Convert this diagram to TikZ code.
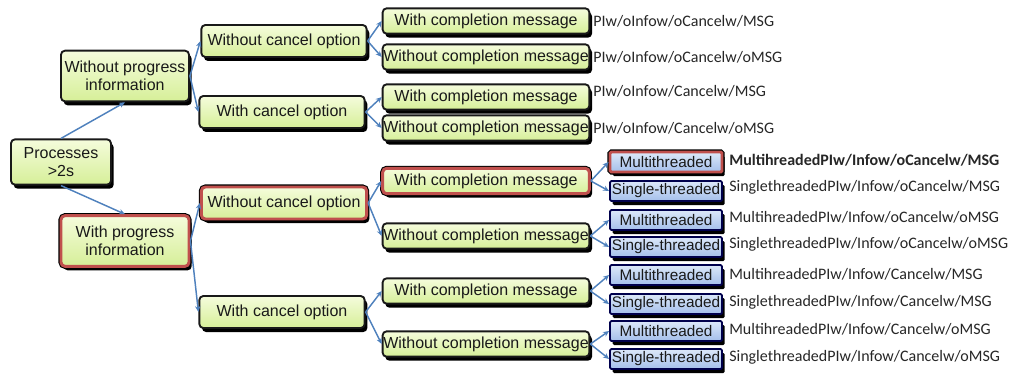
\documentclass[tikz,border=0pt]{standalone}
\usepackage{fontspec}
\setmainfont{Liberation Sans}
\newfontfamily\labfont{Carlito}
\usetikzlibrary{shadows, arrows.meta}

\definecolor{greentop}{HTML}{F5FCDC}
\definecolor{greenbot}{HTML}{D6EF98}
\definecolor{bluetop}{HTML}{DCE8F9}
\definecolor{bluebot}{HTML}{A4BFEA}
\definecolor{redline}{HTML}{C0504D}
\definecolor{arrowblue}{HTML}{4F81BD}

\begin{document}
\begin{tikzpicture}[x=0.75pt, y=-0.75pt]

\tikzset{box/.style = {rectangle, rounded corners=3pt, draw=black!90, line width=1.4pt,
  top color=greentop, bottom color=greenbot, text=black!90, align=center,
  inner xsep=0.5pt, inner ysep=1pt, font=\fontsize{12}{13.5}\selectfont,
  drop shadow={shadow xshift=2pt, shadow yshift=-3pt, fill=black, opacity=1}}}
\tikzset{hot/.style = {draw=redline, line width=2.2pt, preaction={draw=black, line width=3.8pt}}}
\tikzset{lone/.style = {box, minimum width=96pt, minimum height=38pt}}
\tikzset{ltwo/.style = {box, minimum width=124pt, minimum height=24pt}}
\tikzset{lthree/.style = {box, minimum width=155pt, minimum height=19pt}}
\tikzset{lfour/.style = {box, rounded corners=1pt, draw=black!70!blue, minimum width=84pt, minimum height=15pt,
  top color=bluetop, bottom color=bluebot, font=\fontsize{11.5}{12}\selectfont}}
\tikzset{lab/.style = {anchor=west, inner sep=0pt, text=black!85, font=\labfont\fontsize{12}{13}\selectfont}}
\tikzset{edge/.style = {-{Stealth[length=4.5pt, width=4pt]}, draw=arrowblue, line width=1.1pt}}

\useasboundingbox (0,0) rectangle (1012,374);

%boxes
\node[box, minimum width=75pt, minimum height=34pt] (proc) at (61,162) {Processes\\>2s};
\node[lone] (wop) at (125,76) {Without progress\\information};
\node[lone, hot] (wp) at (125,241) {With progress\\information};

\node[ltwo] (nc1) at (284,41) {Without cancel option};
\node[ltwo] (c1) at (282,112) {With cancel option};
\node[ltwo, hot] (nc2) at (284,203) {Without cancel option};
\node[ltwo] (c2) at (282,312) {With cancel option};

\node[lthree] (cm1) at (486,21) {With completion message};
\node[lthree] (nm1) at (486,57) {Without completion message};
\node[lthree] (cm2) at (486,97) {With completion message};
\node[lthree] (nm2) at (486,128) {Without completion message};
\node[lthree, hot] (cm3) at (486,181) {With completion message};
\node[lthree] (nm3) at (486,236) {Without completion message};
\node[lthree] (cm4) at (486,291) {With completion message};
\node[lthree] (nm4) at (486,344) {Without completion message};

\node[lfour, hot] (mt1) at (666,162) {Multithreaded};
\node[lfour] (st1) at (666,191) {Single-threaded};
\node[lfour] (mt2) at (666,220) {Multithreaded};
\node[lfour] (st2) at (666,247) {Single-threaded};
\node[lfour] (mt3) at (666,275) {Multithreaded};
\node[lfour] (st3) at (666,304) {Single-threaded};
\node[lfour] (mt4) at (666,331) {Multithreaded};
\node[lfour] (st4) at (666,359) {Single-threaded};

%labels
\node[lab] (p1) at (593,21) {PIw/oInfow/oCancelw/MSG};
\node[lab] (p2) at (593,57) {PIw/oInfow/oCancelw/oMSG};
\node[lab] (p3) at (593,91) {PIw/oInfow/Cancelw/MSG};
\node[lab] (p4) at (593,128) {PIw/oInfow/Cancelw/oMSG};
\node[lab, font=\labfont\bfseries\fontsize{12}{13}\selectfont] (q1) at (729,160) {MultihreadedPIw/Infow/oCancelw/MSG};
\node[lab] (q2) at (729,187) {SinglethreadedPIw/Infow/oCancelw/MSG};
\node[lab] (q3) at (729,217) {MultihreadedPIw/Infow/oCancelw/oMSG};
\node[lab] (q4) at (729,244) {SinglethreadedPIw/Infow/oCancelw/oMSG};
\node[lab] (q5) at (729,274) {MultihreadedPIw/Infow/Cancelw/MSG};
\node[lab] (q6) at (729,302) {SinglethreadedPIw/Infow/Cancelw/MSG};
\node[lab] (q7) at (729,329) {MultihreadedPIw/Infow/Cancelw/oMSG};
\node[lab] (q8) at (729,357) {SinglethreadedPIw/Infow/Cancelw/oMSG};

%edges
\draw[edge] (proc.north) -- (wop.south);
\draw[edge] (proc.south) -- (wp.north);
\draw[edge] (wop.east) -- (nc1.west);
\draw[edge] (wop.east) -- (c1.west);
\draw[edge] (wp.east) -- (nc2.west);
\draw[edge] (wp.east) -- (c2.west);
\draw[edge] (nc1.east) -- (cm1.west);
\draw[edge] (nc1.east) -- (nm1.west);
\draw[edge] (c1.east) -- (cm2.west);
\draw[edge] (c1.east) -- (nm2.west);
\draw[edge] (nc2.east) -- (cm3.west);
\draw[edge] (nc2.east) -- (nm3.west);
\draw[edge] (c2.east) -- (cm4.west);
\draw[edge] (c2.east) -- (nm4.west);
\draw[edge] (cm3.east) -- (mt1.west);
\draw[edge] (cm3.east) -- (st1.west);
\draw[edge] (nm3.east) -- (mt2.west);
\draw[edge] (nm3.east) -- (st2.west);
\draw[edge] (cm4.east) -- (mt3.west);
\draw[edge] (cm4.east) -- (st3.west);
\draw[edge] (nm4.east) -- (mt4.west);
\draw[edge] (nm4.east) -- (st4.west);

\end{tikzpicture}
\end{document}
